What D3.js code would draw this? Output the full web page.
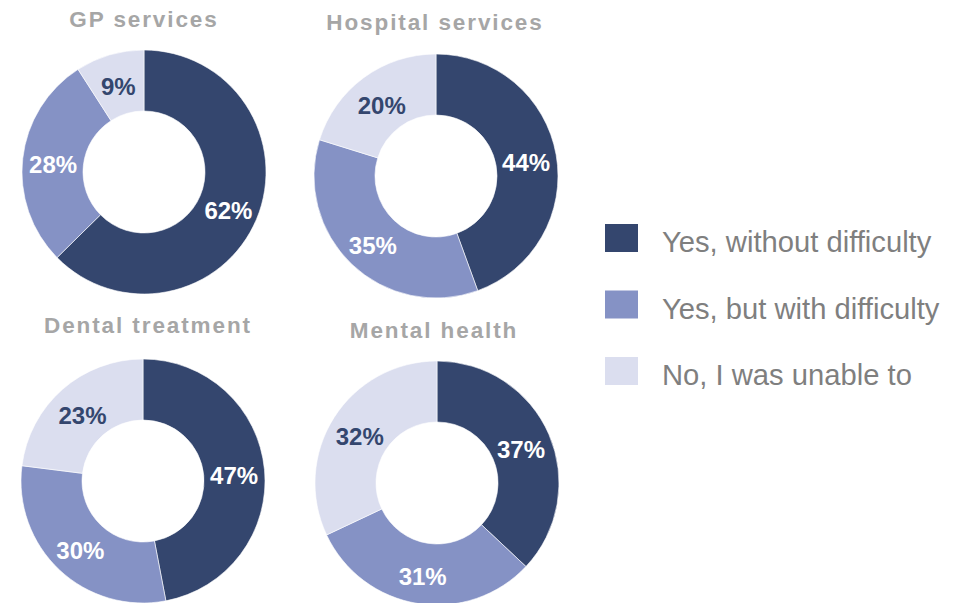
<!DOCTYPE html>
<html>
<head>
<meta charset="utf-8">
<script src="https://cdn.jsdelivr.net/npm/d3@7"></script>
<style>
  html, body { margin: 0; padding: 0; background: #fff; }
  svg { display: block; font-family: Arial, "Liberation Sans", sans-serif; }
</style>
</head>
<body>
<svg id="chart" width="962" height="603"></svg>
<script>
const categories = ["GP services", "Hospital services", "Dental treatment", "Mental health"];
const seriesNames = ["Yes, without difficulty", "Yes, but with difficulty", "No, I was unable to"];
const withoutDifficulty = [62, 44, 47, 37];
const withDifficulty = [28, 35, 30, 31];
const unableTo = [9, 20, 23, 32];

const colors = ["#34466E", "#8592C5", "#DBDEEF"];
const labelColors = ["#ffffff", "#ffffff", "#34466E"];

const svg = d3.select("#chart");

// layout
const centers = [[144, 172], [436, 176], [143, 481], [437, 483]];
const titlePos = [[144, 27], [435, 30], [148, 333], [434, 338]];
const outerR = 122, innerR = 61;

const color = d3.scaleOrdinal().domain(seriesNames).range(colors);
const labelColor = d3.scaleOrdinal().domain(seriesNames).range(labelColors);

const pie = d3.pie().sort(null).value(d => d.value);
const arc = d3.arc().innerRadius(innerR).outerRadius(outerR);
const labelArc = d3.arc().innerRadius(innerR).outerRadius(outerR);

categories.forEach((cat, i) => {
  const data = [
    { name: seriesNames[0], value: withoutDifficulty[i] },
    { name: seriesNames[1], value: withDifficulty[i] },
    { name: seriesNames[2], value: unableTo[i] }
  ];
  const g = svg.append("g").attr("transform", `translate(${centers[i][0]},${centers[i][1]})`);
  const arcs = pie(data);
  g.selectAll("path").data(arcs).join("path")
    .attr("d", arc)
    .attr("fill", d => color(d.data.name))
    .attr("stroke", "#ffffff")
    .attr("stroke-width", 0.6);
  g.selectAll("text").data(arcs).join("text")
    .attr("transform", d => `translate(${labelArc.centroid(d)})`)
    .attr("text-anchor", "middle")
    .attr("dy", "0.47em")
    .attr("fill", d => labelColor(d.data.name))
    .style("font-size", "24px")
    .style("font-weight", "bold")
    .text(d => d.data.value + "%");

  svg.append("text")
    .attr("x", titlePos[i][0])
    .attr("y", titlePos[i][1])
    .attr("text-anchor", "middle")
    .attr("fill", "#A6A6A6")
    .style("font-size", "22.5px")
    .style("font-weight", "bold")
    .style("letter-spacing", "1.9px")
    .text(cat);
});

// legend
const legend = svg.append("g").attr("transform", "translate(605,224)");
const rowY = d3.scalePoint().domain(seriesNames).range([0, 133]);
const items = legend.selectAll("g").data(seriesNames).join("g")
  .attr("transform", d => `translate(0,${rowY(d)})`);
items.append("rect")
  .attr("width", 33).attr("height", 28)
  .attr("fill", d => color(d));
items.append("text")
  .attr("x", 57).attr("y", 28)
  .attr("fill", "#7F7F7F")
  .style("font-size", "29.2px")
  .text(d => d);
</script>
</body>
</html>
